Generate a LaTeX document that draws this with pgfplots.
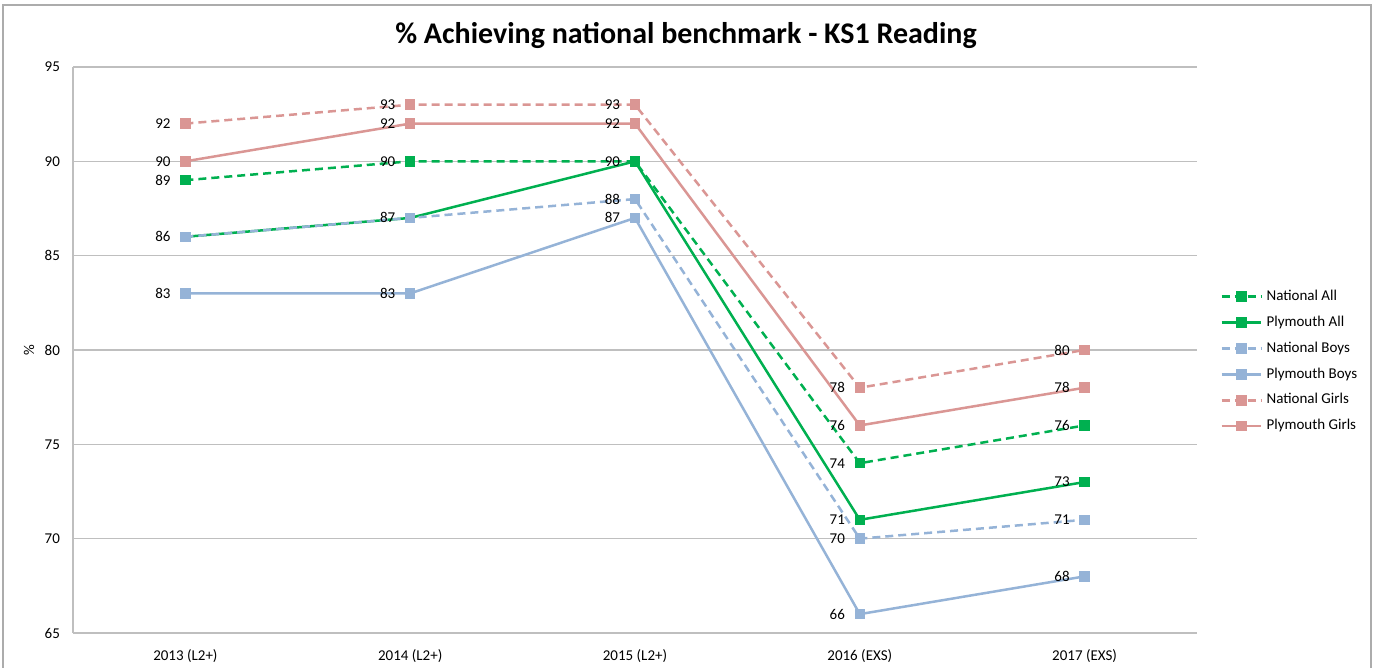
\documentclass[border=0pt]{standalone}
\usepackage{fontspec}
\setmainfont{Carlito}
\usepackage{pgfplots}
\pgfplotsset{compat=1.18}
\definecolor{cgreen}{HTML}{00B050}
\definecolor{cblue}{HTML}{95B3D7}
\definecolor{cpink}{HTML}{DA9694}
\definecolor{cgrid}{HTML}{BFBFBF}
\begin{document}
\begin{tikzpicture}[x=1pt,y=1pt]
\useasboundingbox (0,0) rectangle (688,334);
\draw[cgrid!70!gray, line width=0.8pt] (1.5,-5) rectangle (685.5,331.5);
\node[font=\bfseries\fontsize{15}{17}\selectfont] at (343,316) {\% Achieving national benchmark - KS1 Reading};
\begin{axis}[
  at={(36.5pt,17.5pt)}, anchor=south west,
  scale only axis, width=562pt, height=283pt,
  xmin=-0.5, xmax=4.5, ymin=65, ymax=95,
  ytick={65,70,...,95},
  xtick={0,1,2,3,4},
  xticklabels={2013 (L2+),2014 (L2+),2015 (L2+),2016 (EXS),2017 (EXS)},
  ymajorgrids,
  grid style={cgrid, line width=0.6pt},
  axis x line*=bottom, axis y line*=left,
  axis line style={cgrid, line width=0.6pt, -},
  major tick style={draw=none},
  /pgf/number format/assume math mode=true,
  ticklabel style={font=\fontsize{7.5}{9}\selectfont},
  yticklabel style={xshift=-3pt},
  xticklabel style={yshift=-4.5pt},
  ylabel={\%}, ylabel style={font=\fontsize{7.5}{9}\selectfont, at={(axis description cs:-0.039,0.5)}, anchor=center},
  nodes near coords,
  every node near coord/.append style={font=\fontsize{7.5}{9}\selectfont, anchor=east, xshift=-3.5pt, text=black},
  legend style={at={(1.015,0.621)}, anchor=north west, draw=none, fill=none,
    font=\fontsize{7.5}{9}\selectfont, row sep=2.25pt, cells={anchor=west}},
  legend image code/.code={\draw[mark repeat=2,mark phase=2,#1] plot coordinates {(0cm,0cm) (0.35cm,0cm) (0.7cm,0cm)};},
  every axis plot/.append style={line width=1.25pt, mark=square*, mark size=2pt, mark options={solid}},
]
\addplot[cgreen, dashed, dash pattern=on 4pt off 2.5pt] coordinates {(0,89) (1,90) (2,90) (3,74) (4,76)};
\addlegendentry{National All}
\addplot[cgreen, point meta=explicit symbolic, nodes near coords={\pgfplotspointmeta}] coordinates {(0,86) [] (1,87) [] (2,90) [] (3,71) [71] (4,73) [73]};
\addlegendentry{Plymouth All}
\addplot[cblue, dashed, dash pattern=on 4pt off 2.5pt] coordinates {(0,86) (1,87) (2,88) (3,70) (4,71)};
\addlegendentry{National Boys}
\addplot[cblue] coordinates {(0,83) (1,83) (2,87) (3,66) (4,68)};
\addlegendentry{Plymouth Boys}
\addplot[cpink, dashed, dash pattern=on 4pt off 2.5pt] coordinates {(0,92) (1,93) (2,93) (3,78) (4,80)};
\addlegendentry{National Girls}
\addplot[cpink] coordinates {(0,90) (1,92) (2,92) (3,76) (4,78)};
\addlegendentry{Plymouth Girls}
\end{axis}
\end{tikzpicture}
\end{document}
